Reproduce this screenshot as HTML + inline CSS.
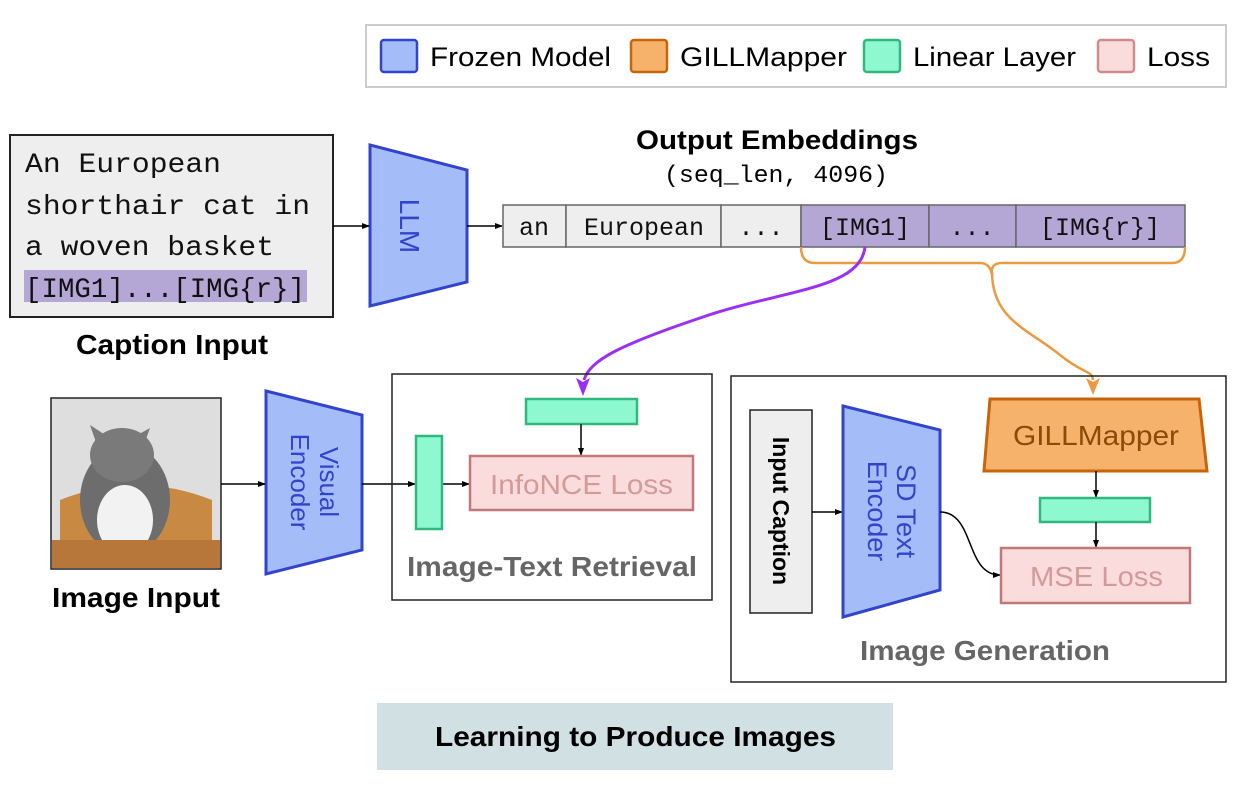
<!DOCTYPE html>
<html><head><meta charset="utf-8"><style>
body{margin:0;background:#fff;width:1254px;height:792px;overflow:hidden}
svg text{font-family:"Liberation Sans",sans-serif}
.m{font-family:"Liberation Mono",monospace}
</style></head><body>
<svg width="1254" height="792" viewBox="0 0 1254 792">
<defs>
<marker id="a" markerWidth="8" markerHeight="8" refX="7" refY="4" orient="auto" markerUnits="userSpaceOnUse"><path d="M0,1 L8,4 L0,7z" fill="#000"/></marker>
</defs>
<!-- legend -->
<rect x="366" y="25" width="860" height="62" fill="#fff" stroke="#ccc" stroke-width="2"/>
<rect x="381" y="40" width="36" height="32" rx="3" fill="#a4bdf8" stroke="#3344cc" stroke-width="2.5"/>
<text x="430" y="66" font-size="27" textLength="181" lengthAdjust="spacingAndGlyphs">Frozen Model</text>
<rect x="631" y="40" width="36" height="32" rx="3" fill="#f6b26b" stroke="#c8650a" stroke-width="2.5"/>
<text x="680" y="66" font-size="27" textLength="167" lengthAdjust="spacingAndGlyphs">GILLMapper</text>
<rect x="864" y="40" width="36" height="32" rx="3" fill="#8ef8d0" stroke="#30b880" stroke-width="2.5"/>
<text x="913" y="66" font-size="27" textLength="163" lengthAdjust="spacingAndGlyphs">Linear Layer</text>
<rect x="1098" y="40" width="36" height="32" rx="3" fill="#fadcdc" stroke="#d08c8c" stroke-width="2.5"/>
<text x="1147" y="66" font-size="27" textLength="63" lengthAdjust="spacingAndGlyphs">Loss</text>
<!-- caption -->
<rect x="10" y="135" width="323" height="182" fill="#eee" stroke="#222" stroke-width="2"/>
<rect x="24" y="270" width="283" height="32" fill="#b4a7d6"/>
<g font-size="28" fill="#111">
<text x="25" y="172" class="m" textLength="196" lengthAdjust="spacingAndGlyphs">An European</text>
<text x="25" y="214" class="m" textLength="285" lengthAdjust="spacingAndGlyphs">shorthair cat in</text>
<text x="25" y="255" class="m" textLength="249" lengthAdjust="spacingAndGlyphs">a woven basket</text>
<text x="25" y="297" class="m" textLength="280" lengthAdjust="spacingAndGlyphs">[IMG1]...[IMG{r}]</text>
</g>
<text x="76" y="354" font-size="28" font-weight="bold" textLength="192" lengthAdjust="spacingAndGlyphs">Caption Input</text>
<!-- LLM -->
<polygon points="370,145 467,170 467,282 370,306" fill="#a4bdf8" stroke="#3344cc" stroke-width="3"/>
<text transform="translate(400,226) rotate(90)" font-size="28" fill="#3344cc" text-anchor="middle">LLM</text>
<line x1="333" y1="226" x2="369" y2="226" stroke="#000" stroke-width="1.5" marker-end="url(#a)"/>
<line x1="467" y1="226" x2="502" y2="226" stroke="#000" stroke-width="1.5" marker-end="url(#a)"/>
<!-- tokens -->
<text x="636" y="149" font-size="27" font-weight="bold" textLength="282" lengthAdjust="spacingAndGlyphs">Output Embeddings</text>
<text x="664" y="182" font-size="24" class="m" textLength="224" lengthAdjust="spacingAndGlyphs">(seq_len, 4096)</text>
<g stroke="#666" stroke-width="1.5">
<rect x="503" y="205" width="63" height="42" fill="#eee"/>
<rect x="566" y="205" width="155" height="42" fill="#eee"/>
<rect x="721" y="205" width="80" height="42" fill="#eee"/>
<rect x="801" y="205" width="128" height="42" fill="#b4a7d6"/>
<rect x="929" y="205" width="87" height="42" fill="#b4a7d6"/>
<rect x="1016" y="205" width="169" height="42" fill="#b4a7d6"/>
</g>
<g font-size="25" text-anchor="middle" fill="#111">
<text x="534" y="235" class="m">an</text>
<text x="644" y="235" class="m">European</text>
<text x="761" y="235" class="m">...</text>
<text x="865" y="235" class="m">[IMG1]</text>
<text x="972" y="235" class="m">...</text>
<text x="1100" y="235" class="m">[IMG{r}]</text>
</g>
<!-- brace -->
<path d="M801,247 Q801,263 815,263 L980,263 Q990,263 992,275 Q990,263 1002,263 L1172,263 Q1185,263 1185,247" fill="none" stroke="#eb9a40" stroke-width="2.5"/>
<path d="M992,272 C992,320 1030,330 1060,355 C1085,375 1092,370 1093,380" fill="none" stroke="#eb9a40" stroke-width="2.5"/>
<path d="M1086,378 L1093,395 L1100,378 L1093,382z" fill="#eb9a40"/>
<path d="M865,247 C860,290 780,290 700,318 C620,345 590,360 584,380" fill="none" stroke="#9b30f5" stroke-width="3"/>
<path d="M576,378 L583,396 L590,378 L583,382z" fill="#9b30f5"/>
<!-- image input -->
<rect x="51" y="398" width="170" height="171" fill="#dedede" stroke="#222" stroke-width="1.5"/>
<path d="M60,500 Q136,470 212,500 L212,560 L60,560z" fill="#c88a42"/>
<ellipse cx="125" cy="500" rx="45" ry="55" fill="#6d6d6d"/>
<ellipse cx="125" cy="520" rx="28" ry="35" fill="#f2f2f2"/>
<ellipse cx="122" cy="455" rx="32" ry="27" fill="#7a7a7a"/>
<path d="M90,425 L98,448 L110,438z M150,428 L142,450 L132,438z" fill="#7a7a7a"/>
<rect x="52" y="540" width="168" height="28" fill="#b8773a"/>
<text x="52" y="607" font-size="28" font-weight="bold" textLength="168" lengthAdjust="spacingAndGlyphs">Image Input</text>
<!-- visual encoder -->
<polygon points="266,391 362,415 362,550 266,574" fill="#a4bdf8" stroke="#3344cc" stroke-width="3"/>
<text transform="translate(314,482) rotate(90)" font-size="26" fill="#3344cc" text-anchor="middle"><tspan x="0" y="-6">Visual</tspan><tspan x="0" y="23">Encoder</tspan></text>
<line x1="221" y1="484" x2="265" y2="484" stroke="#000" stroke-width="1.5" marker-end="url(#a)"/>
<line x1="362" y1="484" x2="415" y2="484" stroke="#000" stroke-width="1.5" marker-end="url(#a)"/>
<line x1="442" y1="484" x2="469" y2="484" stroke="#000" stroke-width="1.5" marker-end="url(#a)"/>
<!-- retrieval -->
<rect x="392" y="374" width="320" height="226" fill="none" stroke="#222" stroke-width="1.5"/>
<rect x="526" y="399" width="111" height="25" fill="#8ef8d0" stroke="#30b880" stroke-width="2.5"/>
<rect x="416" y="436" width="26" height="93" fill="#8ef8d0" stroke="#30b880" stroke-width="2.5"/>
<line x1="581" y1="424" x2="581" y2="455" stroke="#000" stroke-width="1.5" marker-end="url(#a)"/>
<rect x="470" y="456" width="223" height="54" fill="#fadcdc" stroke="#c07878" stroke-width="2.5"/>
<text x="490" y="494" font-size="28" fill="#d49a9a" textLength="183" lengthAdjust="spacingAndGlyphs">InfoNCE Loss</text>
<text x="407" y="576" font-size="28" font-weight="bold" fill="#666" textLength="290" lengthAdjust="spacingAndGlyphs">Image-Text Retrieval</text>
<!-- generation -->
<rect x="731" y="376" width="495" height="306" fill="none" stroke="#222" stroke-width="1.5"/>
<rect x="750" y="410" width="62" height="203" fill="#eee" stroke="#222" stroke-width="1.5"/>
<text transform="translate(781,511) rotate(90)" font-size="23" font-weight="bold" text-anchor="middle" y="8">Input Caption</text>
<line x1="812" y1="512" x2="842" y2="512" stroke="#000" stroke-width="1.5" marker-end="url(#a)"/>
<polygon points="843,406 940,430 940,590 843,617" fill="#a4bdf8" stroke="#3344cc" stroke-width="3"/>
<text transform="translate(891,511) rotate(90)" font-size="27" fill="#3344cc" text-anchor="middle"><tspan x="0" y="-6">SD Text</tspan><tspan x="0" y="23">Encoder</tspan></text>
<path d="M940,512 C975,512 965,575 1000,575" fill="none" stroke="#000" stroke-width="1.5" marker-end="url(#a)"/>
<polygon points="990,399 1199,399 1207,471 984,471" fill="#f6b26b" stroke="#c8650a" stroke-width="3"/>
<text x="1013" y="445" font-size="28" fill="#8a4a08" textLength="166" lengthAdjust="spacingAndGlyphs">GILLMapper</text>
<line x1="1096" y1="471" x2="1096" y2="497" stroke="#000" stroke-width="1.5" marker-end="url(#a)"/>
<rect x="1040" y="498" width="110" height="24" fill="#8ef8d0" stroke="#30b880" stroke-width="2.5"/>
<line x1="1096" y1="522" x2="1096" y2="547" stroke="#000" stroke-width="1.5" marker-end="url(#a)"/>
<rect x="1001" y="548" width="189" height="55" fill="#fadcdc" stroke="#c07878" stroke-width="2.5"/>
<text x="1030" y="586" font-size="28" fill="#d49a9a" textLength="133" lengthAdjust="spacingAndGlyphs">MSE Loss</text>
<text x="860" y="660" font-size="28" font-weight="bold" fill="#666" textLength="250" lengthAdjust="spacingAndGlyphs">Image Generation</text>
<!-- footer -->
<rect x="377" y="703" width="516" height="67" fill="#d0e0e3"/>
<text x="435" y="746" font-size="28" font-weight="bold" textLength="401" lengthAdjust="spacingAndGlyphs">Learning to Produce Images</text>
</svg>
</body></html>
